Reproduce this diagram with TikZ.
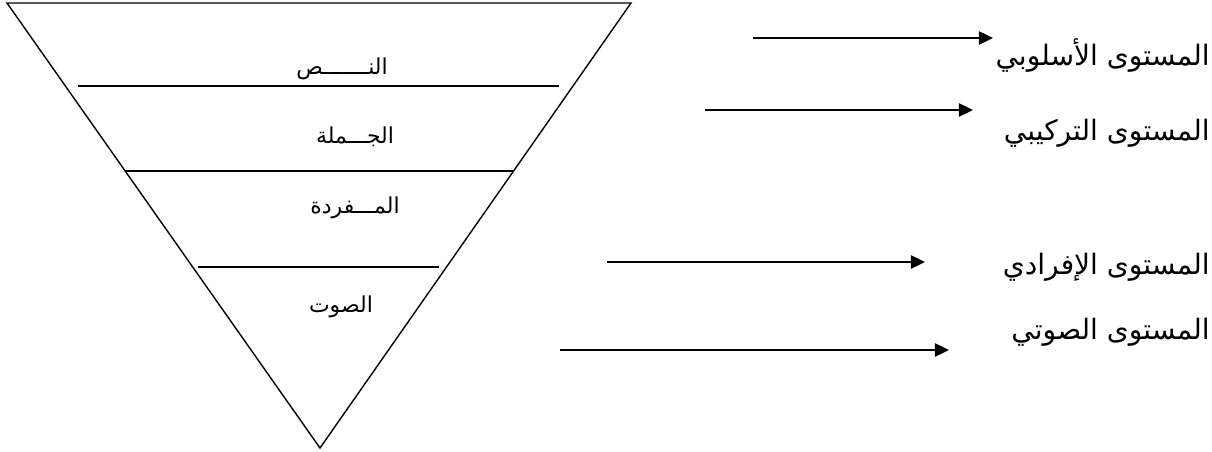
\documentclass[tikz,border=0pt]{standalone}
\usepackage{fontspec}
\newfontfamily\arabicfont[Script=Arabic]{DejaVu Sans}
\TeXXeTstate=1
\newcommand{\arab}[1]{\arabicfont\beginR #1\endR}
\usetikzlibrary{arrows.meta}

\begin{document}
\begin{tikzpicture}[x=0.02cm, y=-0.02cm,
    layer/.style={font=\fontsize{12.5}{14}\selectfont, inner sep=0pt},
    level/.style={font=\fontsize{16}{18}\selectfont, inner sep=0pt, anchor=east},
    >={Triangle[length=8pt,width=7.5pt]}]

    \useasboundingbox (0,0) rectangle (1212,452);

    % inverted pyramid
    \draw [line width=0.8pt] (7,3) -- (631,3) -- (320,448) -- cycle;
    \draw [line width=1.1pt] (78,86) -- (559,86);
    \draw [line width=1.1pt] (125,171) -- (513,171);
    \draw [line width=1.1pt] (198,267) -- (439,267);

    \node [layer] (nass) at (342,69) {\arab{النـــــــص}};
    \node [layer] (jumla) at (355,137) {\arab{الجـــملة}};
    \node [layer] (mufrada) at (355,208) {\arab{المـــفردة}};
    \node [layer] (sawt) at (341,307) {\arab{الصوت}};

    % levels on the right
    \node [level] (uslubi) at (1210,56) {\arab{المستوى الأسلوبي}};
    \node [level] (tarkibi) at (1210,133) {\arab{المستوى التركيبي}};
    \node [level] (ifradi) at (1210,267) {\arab{المستوى الإفرادي}};
    \node [level] (sawti) at (1210,332) {\arab{المستوى الصوتي}};

    \coordinate (a1) at (753,38);  \coordinate (b1) at (993,38);
    \coordinate (a2) at (705,110); \coordinate (b2) at (973,110);
    \coordinate (a3) at (607,262); \coordinate (b3) at (925,262);
    \coordinate (a4) at (560,350); \coordinate (b4) at (949,350);

    \foreach \i in {1,...,4}
      \draw [->, line width=1.1pt] (a\i) -- (b\i);

  \end{tikzpicture}
\end{document}
